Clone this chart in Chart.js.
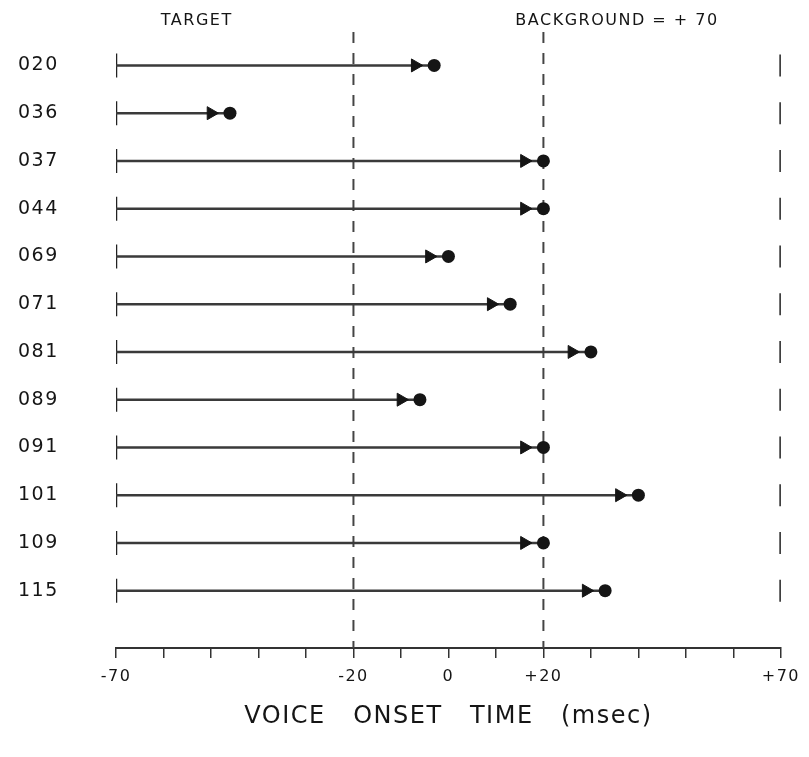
<!DOCTYPE html>
<html>
<head>
<meta charset="utf-8">
<script src="https://cdn.jsdelivr.net/npm/chart.js@4.4.0/dist/chart.umd.min.js"></script>
<style>
  html, body { margin: 0; padding: 0; background: #fff; }
</style>
</head>
<body>
<canvas id="chart" width="809" height="757"></canvas>
<script>
// listener codes, top to bottom
const rowLabels = ["020", "036", "037", "044", "069", "071", "081", "089", "091", "101", "109", "115"];
// voice onset time reached by each listener (msec)
const onsetValues = [-3, -46, 20, 20, 0, 13, 30, -6, 20, 40, 20, 33];
const targetValue = -70;
const backgroundValue = 70;
const dashedLineValues = [-20, 20];
const xTickValues = [-70, -20, 0, 20, 70];
const xTickLabels = ["-70", "-20", "0", "+20", "+70"];
const headerLabels = ["TARGET", "BACKGROUND = + 70"];
const headerValues = [-53, 35.5];

const ink = "#151515";
const fontFamily = "'DejaVu Sans', sans-serif";

// the lettering in the figure is wide, so space the letters out a bit
const spacingPlugin = {
    id: "spacing",
    beforeLayout(chart) { chart.ctx.letterSpacing = "1.5px"; },
    beforeDraw(chart) { chart.ctx.letterSpacing = "1.5px"; }
};

const rowPoints = (value) => rowLabels.map((_, i) => ({ x: value, y: i }));

const datasets = [
    {
        // dots at the reached value
        data: onsetValues.map((v, i) => ({ x: v, y: i })),
        pointStyle: "circle",
        pointRadius: 6.5,
        backgroundColor: ink,
        borderColor: ink,
        borderWidth: 0
    },
    {
        // arrowheads just before the dot
        data: onsetValues.map((v, i) => ({ x: v - 4, y: i })),
        pointStyle: "triangle",
        pointRotation: 90,
        pointRadius: 7.5,
        backgroundColor: ink,
        borderColor: ink,
        borderWidth: 1
    },
    {
        // shafts from the target to the reached value
        data: onsetValues.flatMap((v, i) => [{ x: targetValue, y: i }, { x: v, y: i }, { x: null, y: i }]),
        showLine: true,
        spanGaps: false,
        borderColor: "#3a3a3a",
        borderWidth: 2.5,
        pointRadius: 0
    },
    {
        data: rowPoints(targetValue),
        pointStyle: "line",
        pointRotation: 90,
        pointRadius: 12,
        borderColor: "#222",
        borderWidth: 2.5
    },
    {
        data: rowPoints(backgroundValue),
        pointStyle: "line",
        pointRotation: 90,
        pointRadius: 11,
        borderColor: "#222",
        borderWidth: 3
    }
];

dashedLineValues.forEach(v => {
    datasets.push({
        data: [{ x: v, y: -0.7 }, { x: v, y: 12.2 }],
        showLine: true,
        borderColor: "#444",
        borderWidth: 2,
        borderDash: [11, 10],
        pointRadius: 0
    });
});

new Chart(document.getElementById("chart").getContext("2d"), {
    type: "scatter",
    data: { datasets },
    plugins: [spacingPlugin],
    options: {
        responsive: false,
        animation: false,
        layout: { padding: { left: 18, right: 26, top: 8, bottom: 0 } },
        plugins: {
            legend: { display: false },
            tooltip: { enabled: false }
        },
        scales: {
            x: {
                type: "linear",
                position: "bottom",
                min: -70,
                max: 70,
                ticks: {
                    stepSize: 10,
                    autoSkip: false,
                    maxRotation: 0,
                    padding: 9,
                    color: ink,
                    font: { family: fontFamily, size: 16 },
                    callback: (v) => {
                        const k = xTickValues.indexOf(v);
                        return k >= 0 ? xTickLabels[k] : "";
                    }
                },
                grid: {
                    drawOnChartArea: false,
                    tickLength: 10,
                    color: "#333",
                    lineWidth: 1.5
                },
                border: { color: "#333", width: 2 },
                title: {
                    display: true,
                    text: "VOICE   ONSET   TIME   (msec)",
                    color: ink,
                    font: { family: fontFamily, size: 24 },
                    padding: { top: 0, bottom: 26 }
                },
                afterFit: (s) => { s.height = 109; }
            },
            x2: {
                type: "linear",
                axis: "x",
                position: "top",
                min: -70,
                max: 70,
                afterBuildTicks: (s) => { s.ticks = headerValues.map(v => ({ value: v })); },
                ticks: {
                    autoSkip: false,
                    maxRotation: 0,
                    padding: 2,
                    color: ink,
                    font: { family: fontFamily, size: 16 },
                    callback: (v, i) => headerLabels[i]
                },
                grid: { display: false, drawTicks: false },
                border: { display: false },
                afterFit: (s) => { s.height = 24; }
            },
            y: {
                type: "linear",
                reverse: true,
                min: -0.7,
                max: 12.2,
                afterBuildTicks: (s) => { s.ticks = rowLabels.map((_, i) => ({ value: i })); },
                ticks: {
                    autoSkip: false,
                    crossAlign: "far",
                    color: ink,
                    font: { family: fontFamily, size: 19 },
                    callback: (v) => rowLabels[v]
                },
                grid: { display: false },
                border: { display: false },
                afterFit: (s) => { s.width = 98; }
            }
        }
    }
});
</script>
</body>
</html>
